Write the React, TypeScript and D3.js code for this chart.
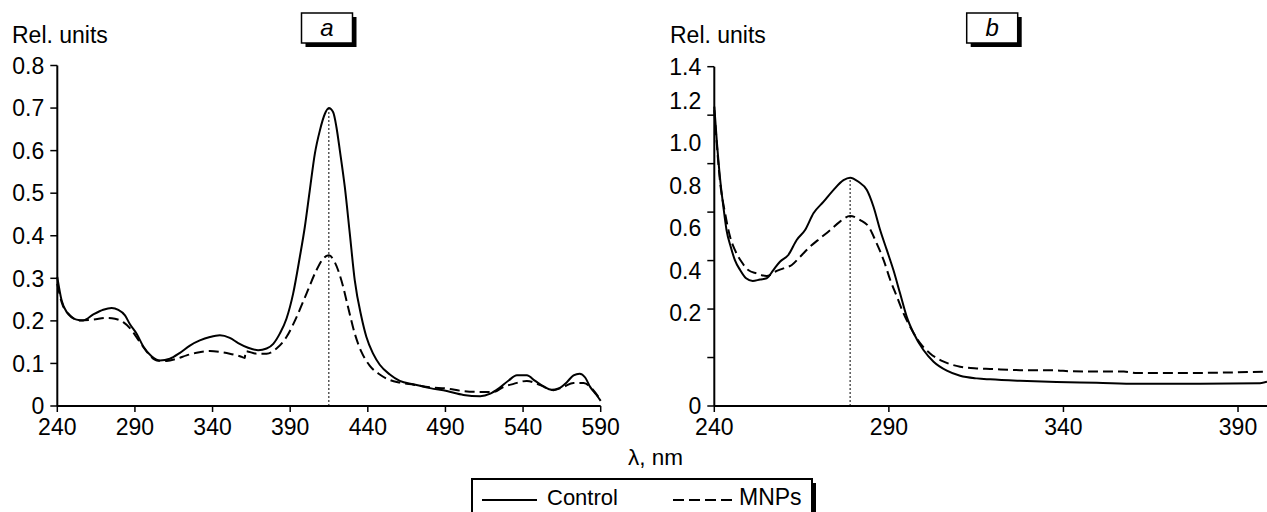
import React from "react";
import * as d3 from "d3";

// Panel a (240-590 nm)
const controlA: [number, number][] = [
  [240, 0.303], [242.8, 0.248], [246, 0.221], [252.4, 0.203], [256.7, 0.201],
  [263.2, 0.215], [269.6, 0.226], [275, 0.23], [279.3, 0.226], [283.6, 0.213],
  [286.8, 0.192], [291.1, 0.17], [295.4, 0.14], [300.7, 0.117], [306.1, 0.107],
  [312.5, 0.111], [319, 0.125], [325.4, 0.142], [331.8, 0.154], [338.3, 0.162],
  [344.7, 0.166], [351.1, 0.16], [356.5, 0.148], [362.9, 0.137], [369.4, 0.131],
  [374.8, 0.135], [379.1, 0.146], [383.3, 0.17], [387.6, 0.205], [391.9, 0.264],
  [396.2, 0.35], [399.4, 0.42], [402.6, 0.506], [405.9, 0.593], [409.1, 0.647],
  [412.3, 0.686], [414.9, 0.7], [417.7, 0.69], [419.8, 0.655], [422, 0.6],
  [425.2, 0.514], [428.4, 0.405], [431.6, 0.295], [435.9, 0.209], [439.1, 0.162],
  [443.4, 0.123], [447.7, 0.097], [454.2, 0.074], [460.6, 0.059], [469.4, 0.051],
  [480.1, 0.042], [490.9, 0.035], [501.6, 0.026], [512.4, 0.023], [518.9, 0.029],
  [524.2, 0.041], [530.7, 0.06], [536, 0.072], [542.4, 0.072], [547.8, 0.059],
  [553.2, 0.046], [558.5, 0.038], [562.8, 0.041], [568.2, 0.056], [572.5, 0.072],
  [576.4, 0.076], [580, 0.067], [583.2, 0.045], [587.1, 0.027], [590, 0.012],
];

const mnpA: [number, number][] = [
  [240, 0.287], [242.8, 0.244], [248.2, 0.213], [254.6, 0.201], [263.2, 0.203],
  [271.8, 0.207], [277.1, 0.205], [282.5, 0.197], [287.9, 0.178], [293.2, 0.15],
  [298.7, 0.123], [304, 0.107], [310.4, 0.106], [316.9, 0.111], [323.3, 0.119],
  [329.8, 0.125], [338.3, 0.129], [344.7, 0.127], [351.1, 0.123], [357.6, 0.117],
  [360.8, 0.113], [361.2, 0.129], [368.3, 0.123], [374.8, 0.123], [381.2, 0.135],
  [387.6, 0.162], [394.1, 0.209], [400.5, 0.264], [406.9, 0.319], [411.2, 0.346],
  [414.9, 0.354], [418.7, 0.338], [423, 0.295], [427.3, 0.232], [431.6, 0.17],
  [435.9, 0.127], [441.2, 0.095], [447.7, 0.074], [454.2, 0.061], [460.6, 0.055],
  [469.4, 0.05], [480.1, 0.044], [490.9, 0.041], [501.6, 0.035], [512.4, 0.033],
  [521, 0.033], [527.5, 0.045], [533.9, 0.052], [542.4, 0.059], [551, 0.049],
  [559.6, 0.037], [566.1, 0.045], [572.5, 0.054], [579, 0.054], [584.3, 0.041],
  [590, 0.013],
];

// Panel b (240-398 nm)
const controlB: [number, number][] = [
  [240, 1.235], [240.7, 1.097], [241.6, 0.946], [242.6, 0.822], [243.5, 0.726],
  [244.7, 0.657], [245.9, 0.602], [247.4, 0.561], [249.1, 0.527], [251, 0.516],
  [253.1, 0.522], [255, 0.527], [256.9, 0.561], [258.8, 0.595], [261.2, 0.623],
  [263.6, 0.685], [266, 0.726], [268.4, 0.795], [271.3, 0.843], [274.1, 0.891],
  [277, 0.932], [278.9, 0.942], [281.3, 0.925], [283.7, 0.891], [285.6, 0.822],
  [287.5, 0.726], [289.4, 0.644], [291.3, 0.561], [293.2, 0.465], [295.1, 0.369],
  [297.1, 0.3], [299.9, 0.231], [302.8, 0.183], [306.6, 0.146], [310.4, 0.125],
  [315.2, 0.114], [319, 0.11], [327.5, 0.104], [338, 0.099], [349.5, 0.096],
  [361, 0.092], [373.4, 0.092], [396.3, 0.094], [398.3, 0.1],
];

const mnpB: [number, number][] = [
  [240, 1.221], [240.7, 1.084], [241.6, 0.932], [243.1, 0.795], [244.5, 0.699],
  [245.9, 0.644], [247.8, 0.595], [249.7, 0.561], [252.1, 0.547], [255, 0.536],
  [257.4, 0.554], [259.8, 0.568], [262.2, 0.582], [264.6, 0.616], [267.4, 0.657],
  [270.3, 0.692], [273.2, 0.726], [276, 0.761], [278.9, 0.784], [281.8, 0.767],
  [284.2, 0.74], [286.5, 0.671], [288.5, 0.602], [290.4, 0.52], [292.3, 0.451],
  [294.2, 0.382], [296.6, 0.313], [299, 0.258], [301.8, 0.217], [305.7, 0.183],
  [310.4, 0.162], [315.2, 0.155], [319, 0.153], [327.5, 0.148], [338, 0.147],
  [341.8, 0.143], [357.3, 0.142], [361, 0.136], [373.4, 0.136], [398.3, 0.142],
];

const peakA = [414.9, 0.7];
const peakB = [278.9, 0.942];

const xTicksA = [240, 290, 340, 390, 440, 490, 540, 590];
const yTicksA = [0, 0.1, 0.2, 0.3, 0.4, 0.5, 0.6, 0.7, 0.8];
const xTicksB = [240, 290, 340, 390];
const yTicksB = [0, 0.2, 0.4, 0.6, 0.8, 1.0, 1.2, 1.4];

const FONT = "'Liberation Sans', Arial, sans-serif";

const W = 1267;
const H = 512;
const axisY = 406;

const xA = d3.scaleLinear().domain([240, 590]).range([57.3, 600.7]);
const yA = d3.scaleLinear().domain([0, 0.8]).range([axisY, 65.5]);
const xB = d3.scaleLinear().domain([240, 398.3]).range([714.3, 1267]);
const yB = d3.scaleLinear().domain([0, 1.4]).range([axisY, 66.7]);
// the reference prints the middle labels of panel b off their ticks
const yBLabel = d3.scaleLinear().domain([0.2, 1.2]).range([yB(0.383), yB(1.26)]);

const fmt = (v: number) => (v === 0 ? "0" : v.toFixed(1));

function Panel({ x, y, data1, data2, xTicks, yTicks, peak, labelY, letter, boxX, relX }: any) {
  const gen = d3
    .line<[number, number]>()
    .x(d => x(d[0]))
    .y(d => y(d[1]))
    .curve(d3.curveMonotoneX);
  const [x0, x1] = x.range();
  const [yb, yt] = y.range();
  return (
    <g>
      <text x={relX} y={43} fontSize={23} fontFamily={FONT}>Rel. units</text>
      <rect x={boxX + 4} y={17} width={51} height={30} fill="#000" />
      <rect x={boxX} y={13} width={51} height={30} fill="#fff" stroke="#000" strokeWidth={1.5} />
      <text x={boxX + 25.5} y={36} fontSize={24} fontStyle="italic" textAnchor="middle" fontFamily={FONT}>
        {letter}
      </text>
      <line x1={x0} x2={x0} y1={yb} y2={yt} stroke="#000" strokeWidth={2} />
      <line x1={x0} x2={x1} y1={yb} y2={yb} stroke="#000" strokeWidth={2} />
      {yTicks.map((t: number) => (
        <g key={"y" + t}>
          <line x1={x0 - 7} x2={x0} y1={y(t)} y2={y(t)} stroke="#000" strokeWidth={1.5} />
          <text x={x0 - 13} y={labelY(t)} dy="0.36em" textAnchor="end" fontSize={23} fontFamily={FONT}>
            {fmt(t)}
          </text>
        </g>
      ))}
      {xTicks.map((t: number) => (
        <g key={"x" + t}>
          <line x1={x(t)} x2={x(t)} y1={yb} y2={yb + 6} stroke="#000" strokeWidth={1.5} />
          <text x={x(t)} y={435} textAnchor="middle" fontSize={23} fontFamily={FONT}>{t}</text>
        </g>
      ))}
      <line x1={x(peak[0])} x2={x(peak[0])} y1={yb} y2={y(peak[1])} stroke="#000" strokeWidth={1} strokeDasharray="2,2" />
      <path d={gen(data1) || ""} fill="none" stroke="#000" strokeWidth={2} />
      <path d={gen(data2) || ""} fill="none" stroke="#000" strokeWidth={2} strokeDasharray="10,5" />
    </g>
  );
}

export default function App() {
  return (
    <svg width={W} height={H} style={{ position: "absolute", left: 0, top: 0, background: "#fff" }}>
      <Panel
        x={xA} y={yA} data1={controlA} data2={mnpA}
        xTicks={xTicksA} yTicks={yTicksA} peak={peakA}
        labelY={(t: number) => yA(t)} letter="a" boxX={301.5} relX={12}
      />
      <Panel
        x={xB} y={yB} data1={controlB} data2={mnpB}
        xTicks={xTicksB} yTicks={yTicksB} peak={peakB}
        labelY={(t: number) => (t === 0 || t === 1.4 ? yB(t) : yBLabel(t))}
        letter="b" boxX={966.7} relX={670}
      />
      <text x={655.5} y={465} textAnchor="middle" fontSize={22.5} fontFamily={FONT}>λ, nm</text>
      <rect x={812} y={483} width={4} height={40} fill="#000" />
      <rect x={472} y={479} width={340} height={50} fill="#fff" stroke="#000" strokeWidth={2} />
      <line x1={482} x2={537} y1={500} y2={500} stroke="#000" strokeWidth={2} />
      <text x={547} y={505} fontSize={22} fontFamily={FONT}>Control</text>
      <line x1={673} x2={734} y1={500} y2={500} stroke="#000" strokeWidth={2} strokeDasharray="11,5" />
      <text x={739} y={505} fontSize={23} fontFamily={FONT}>MNPs</text>
    </svg>
  );
}
